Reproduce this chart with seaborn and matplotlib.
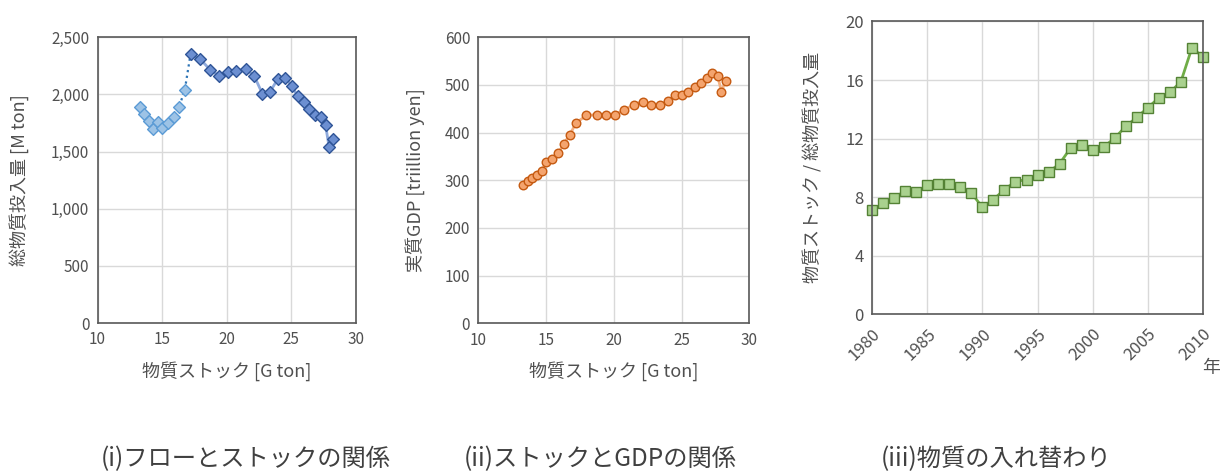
import matplotlib
matplotlib.use("Agg")
import matplotlib.pyplot as plt
from matplotlib.ticker import FuncFormatter, MultipleLocator
import numpy as np
import pandas as pd
import seaborn as sns

# ---- data -------------------------------------------------------------
years = list(range(1980, 2011))

# material stock [G ton]
stock = [13.30, 13.62, 13.97, 14.30, 14.68, 14.98, 15.44, 15.90, 16.31, 16.75,
         17.20, 17.95, 18.73, 19.38, 20.08, 20.75, 21.47, 22.12, 22.76, 23.37,
         23.96, 24.54, 25.03, 25.50, 25.96, 26.40, 26.86, 27.28, 27.66, 27.94,
         28.25]

# total material input [M ton]
flow = [1891, 1833, 1768, 1702, 1760, 1707, 1751, 1803, 1891, 2037,
        2351, 2310, 2214, 2165, 2197, 2205, 2223, 2165, 2008, 2025,
        2136, 2148, 2078, 1984, 1938, 1873, 1824, 1803, 1733, 1536,
        1614]

# real GDP [trillion yen]
gdp = [290, 298, 305, 312, 320, 338, 345, 357, 377, 396,
       420, 436, 438, 438, 438, 447, 459, 465, 457, 457,
       467, 478, 479, 486, 496, 505, 515, 525, 519, 486,
       509]

# stock / input ratio
turnover = [7.11, 7.57, 7.93, 8.45, 8.36, 8.81, 8.90, 8.90, 8.70, 8.29,
            7.31, 7.84, 8.52, 9.07, 9.20, 9.50, 9.70, 10.29, 11.36, 11.56,
            11.22, 11.43, 12.04, 12.84, 13.45, 14.11, 14.79, 15.15, 15.90, 18.22,
            17.56]

titles = ["(i)フローとストックの関係", "(ii)ストックとGDPの関係", "(iii)物質の入れ替わり"]

df = pd.DataFrame({"year": years, "stock": stock, "flow": flow,
                   "gdp": gdp, "turnover": turnover})
early = df[df["year"] <= 1989]
bridge = df[df["year"] <= 1990]
late = df[df["year"] >= 1990]

# ---- style ------------------------------------------------------------
sns.set_theme(style="whitegrid")
plt.rcParams["font.family"] = ["Noto Sans CJK JP", "DejaVu Sans"]
TXT = "#505050"
GRID = "#d9d9d9"

fig = plt.figure(figsize=(12.2, 4.71), dpi=100)
ax1 = fig.add_axes([0.0800, 0.3142, 0.2116, 0.6066])
ax2 = fig.add_axes([0.3922, 0.3136, 0.2220, 0.6072])
ax3 = fig.add_axes([0.7148, 0.3327, 0.2713, 0.6217])


def style_axes(ax):
    ax.set_facecolor("white")
    ax.grid(True, color=GRID, linewidth=1.0)
    ax.set_axisbelow(True)
    for s in ax.spines.values():
        s.set_color("#595959")
        s.set_linewidth(1.2)
        s.set_visible(True)
    ax.tick_params(axis="both", length=0, labelsize=11, labelcolor=TXT, pad=6)


# (i) flow vs stock
sns.lineplot(data=bridge, x="stock", y="flow", sort=False, estimator=None,
             ax=ax1, color="#2e75b6", linestyle=(0, (1, 1.6)), linewidth=1.6)
sns.lineplot(data=late, x="stock", y="flow", sort=False, estimator=None,
             ax=ax1, color="#8faadc", linewidth=2.0)
sns.scatterplot(data=early, x="stock", y="flow", ax=ax1, marker="D", s=36,
                color="#9dc3e6", edgecolor="#5b9bd5", linewidth=1.0, zorder=3)
sns.scatterplot(data=late, x="stock", y="flow", ax=ax1, marker="D", s=36,
                color="#6c8fd1", edgecolor="#2f5597", linewidth=1.0, zorder=3)
ax1.set_xlim(10, 30)
ax1.set_ylim(0, 2500)
ax1.xaxis.set_major_locator(MultipleLocator(5))
ax1.yaxis.set_major_locator(MultipleLocator(500))
ax1.yaxis.set_major_formatter(FuncFormatter(lambda v, p: f"{int(v):,}"))
ax1.set_xlabel("物質ストック [G ton]", fontsize=13, color=TXT, labelpad=9)
ax1.set_ylabel("総物質投入量 [M ton]", fontsize=13, color=TXT, labelpad=16)
style_axes(ax1)

# (ii) GDP vs stock
sns.lineplot(data=df, x="stock", y="gdp", sort=False, estimator=None,
             ax=ax2, color="#f4b183", linewidth=2.0)
sns.scatterplot(data=df, x="stock", y="gdp", ax=ax2, marker="o", s=38,
                color="#f4a46e", edgecolor="#c55a11", linewidth=1.0, zorder=3)
ax2.set_xlim(10, 30)
ax2.set_ylim(0, 600)
ax2.xaxis.set_major_locator(MultipleLocator(5))
ax2.yaxis.set_major_locator(MultipleLocator(100))
ax2.set_xlabel("物質ストック [G ton]", fontsize=13, color=TXT, labelpad=9)
ax2.set_ylabel("実質GDP [triillion yen]", fontsize=13, color=TXT, labelpad=14)
style_axes(ax2)

# (iii) turnover ratio by year
sns.lineplot(data=df, x="year", y="turnover", ax=ax3, color="#70ad47",
             linewidth=2.0, marker="s", markersize=6.5,
             markerfacecolor="#a9d18e", markeredgecolor="#548235",
             markeredgewidth=1.0, clip_on=False)
ax3.set_xlim(1980, 2010)
ax3.set_ylim(0, 20)
ax3.xaxis.set_major_locator(MultipleLocator(5))
ax3.yaxis.set_major_locator(MultipleLocator(4))
ax3.set_xlabel("")
ax3.set_ylabel("物質ストック / 総物質投入量", fontsize=13, color=TXT, labelpad=16)
style_axes(ax3)
ax3.tick_params(axis="both", labelsize=12)
ax3.tick_params(axis="x", pad=8)
for lab in ax3.get_xticklabels():
    lab.set_rotation(45)
    lab.set_ha("right")
    lab.set_va("top")
    lab.set_rotation_mode("anchor")
fig.text(1211 / 1220, 1 - 368 / 471, "年", fontsize=13, color=TXT,
         ha="center", va="center")

# panel captions
for cx, t in zip([246, 600, 996], titles):
    fig.text(cx / 1220, 1 - 459 / 471, t, fontsize=17.5, color="#404040",
             ha="center", va="center")

fig.savefig("out.png", dpi=100)
